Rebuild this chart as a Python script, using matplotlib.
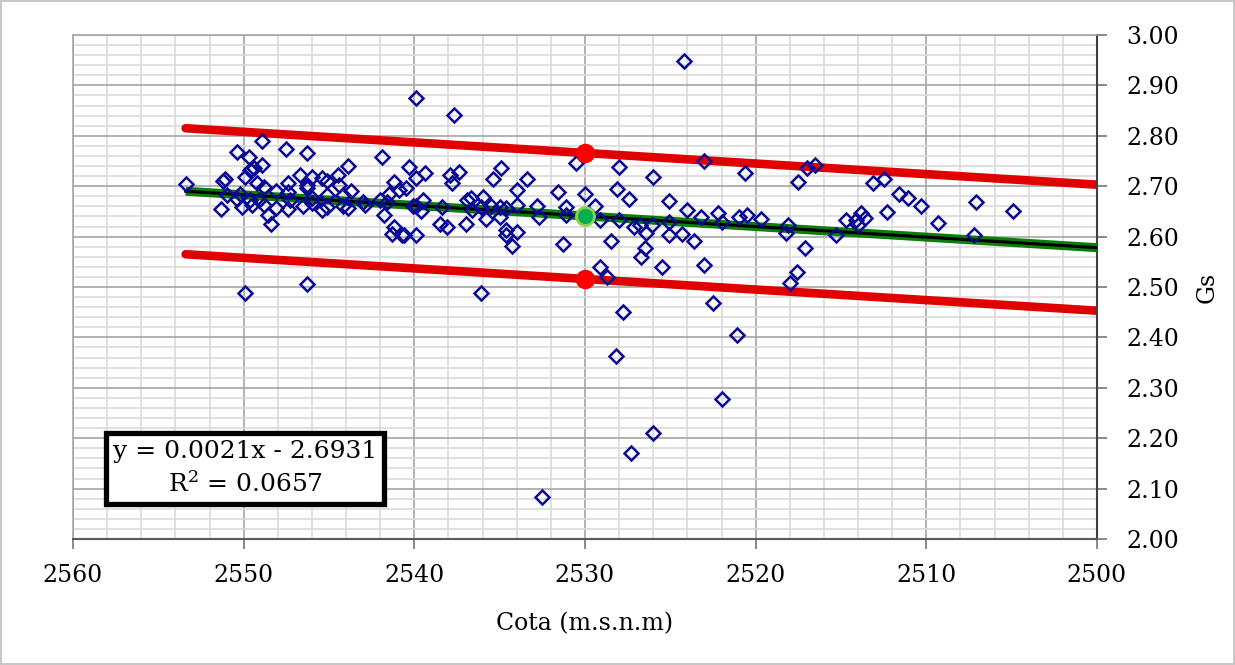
import matplotlib
matplotlib.use("Agg")
import matplotlib.pyplot as plt
from matplotlib.ticker import MultipleLocator, FormatStrFormatter

# ---------------- data ----------------
cota = [2553.4, 2548.9, 2550.4, 2547.5, 2546.3, 2549.7, 2548.9, 2549.6, 2549.4, 2543.9,
        2541.9, 2540.3, 2551.1, 2551.2, 2549.9, 2549.2, 2546.7, 2546.0, 2547.4, 2546.3,
        2545.4, 2545.1, 2544.5, 2544.4, 2539.9, 2541.2, 2548.8, 2546.3, 2551.0, 2550.2,
        2548.1, 2547.4, 2543.7, 2540.9, 2540.5, 2550.4, 2549.6, 2549.1, 2547.3, 2546.0,
        2545.1, 2544.2, 2543.0, 2541.5, 2542.0, 2541.6, 2551.3, 2550.1, 2549.5, 2548.8,
        2548.1, 2547.4, 2546.5, 2546.0, 2545.4, 2545.1, 2544.2, 2543.9, 2542.9, 2539.9,
        2548.6, 2548.4, 2541.8, 2541.2, 2541.3, 2540.7, 2539.9, 2549.9, 2546.3, 2539.4,
        2537.9, 2537.4, 2537.8, 2534.9, 2535.4, 2533.4, 2534.0, 2530.5, 2528.0, 2531.6,
        2530.0, 2528.1, 2527.4, 2540.1, 2539.5, 2539.6, 2538.4, 2536.9, 2536.7, 2536.0,
        2536.6, 2536.1, 2535.5, 2535.0, 2534.6, 2534.0, 2532.8, 2532.7, 2531.1, 2531.1,
        2529.4, 2529.1, 2528.0, 2527.1, 2526.4, 2540.6, 2538.5, 2538.1, 2537.0, 2535.8,
        2535.0, 2534.6, 2534.6, 2534.0, 2534.3, 2531.3, 2528.5, 2526.5, 2526.7, 2529.1,
        2528.7, 2536.1, 2527.8, 2537.7, 2539.9, 2524.2, 2523.0, 2526.0, 2520.6, 2517.0,
        2516.5, 2517.5, 2513.1, 2512.5, 2525.1, 2524.0, 2523.2, 2522.2, 2522.0, 2521.0,
        2520.5, 2519.7, 2518.1, 2518.2, 2515.3, 2514.7, 2514.1, 2513.8, 2513.6, 2514.0,
        2512.3, 2526.8, 2526.1, 2525.1, 2525.1, 2524.3, 2523.6, 2525.5, 2523.0, 2517.1,
        2517.6, 2518.0, 2522.5, 2511.6, 2511.1, 2510.3, 2509.3, 2507.1, 2504.9, 2507.2,
        2521.1, 2528.2, 2522.0, 2526.0, 2527.3, 2532.5]

gs = [2.704, 2.790, 2.768, 2.774, 2.766, 2.758, 2.742, 2.732, 2.736, 2.740,
      2.758, 2.738, 2.714, 2.710, 2.718, 2.706, 2.722, 2.718, 2.706, 2.702,
      2.716, 2.710, 2.722, 2.702, 2.716, 2.708, 2.698, 2.696, 2.683, 2.685,
      2.690, 2.688, 2.690, 2.692, 2.696, 2.675, 2.673, 2.673, 2.673, 2.677,
      2.683, 2.683, 2.669, 2.685, 2.673, 2.669, 2.655, 2.659, 2.663, 2.663,
      2.657, 2.655, 2.661, 2.667, 2.653, 2.659, 2.661, 2.657, 2.663, 2.661,
      2.643, 2.625, 2.643, 2.619, 2.605, 2.603, 2.603, 2.488, 2.506, 2.726,
      2.722, 2.728, 2.706, 2.736, 2.714, 2.714, 2.692, 2.746, 2.738, 2.688,
      2.685, 2.694, 2.675, 2.661, 2.673, 2.651, 2.659, 2.673, 2.677, 2.679,
      2.653, 2.659, 2.661, 2.659, 2.657, 2.663, 2.661, 2.639, 2.659, 2.643,
      2.661, 2.633, 2.633, 2.619, 2.607, 2.603, 2.625, 2.619, 2.625, 2.635,
      2.639, 2.613, 2.603, 2.609, 2.581, 2.585, 2.591, 2.577, 2.560, 2.540,
      2.520, 2.488, 2.450, 2.841, 2.875, 2.948, 2.750, 2.718, 2.726, 2.736,
      2.742, 2.708, 2.706, 2.714, 2.671, 2.653, 2.639, 2.647, 2.629, 2.639,
      2.643, 2.635, 2.623, 2.607, 2.603, 2.633, 2.633, 2.647, 2.637, 2.623,
      2.649, 2.623, 2.623, 2.629, 2.603, 2.605, 2.591, 2.540, 2.544, 2.577,
      2.530, 2.508, 2.468, 2.685, 2.677, 2.661, 2.627, 2.669, 2.651, 2.603,
      2.405, 2.363, 2.278, 2.210, 2.171, 2.083]

# trend line (as drawn) and +/- band
trend_x = [2553.4, 2500.0]
trend_y = [2.690, 2.578]
band = 0.125

# highlighted points at cota 2530
mark_x = 2530.0
mark_center = 2.640
mark_upper = 2.765
mark_lower = 2.515

eq_lines = ["y = 0.0021x - 2.6931", "R$^2$ = 0.0657"]

x_label = "Cota (m.s.n.m)"
y_label = "Gs"
x_lim = (2560, 2500)
y_lim = (2.00, 3.00)

# ---------------- plot ----------------
plt.rcParams['font.family'] = ['DejaVu Serif']
plt.rcParams['mathtext.fontset'] = 'dejavuserif'

fig = plt.figure(figsize=(12.35, 6.65), dpi=100)
fig.patch.set_facecolor('white')
fig.patch.set_edgecolor('#c8c8c8')
fig.patch.set_linewidth(1.5)

ax = fig.add_axes([73/1235, 1 - 539/665, (1097-73)/1235, (539-35)/665])
ax.set_xlim(*x_lim)
ax.set_ylim(*y_lim)

# grid
ax.xaxis.set_major_locator(MultipleLocator(10))
ax.xaxis.set_minor_locator(MultipleLocator(2))
ax.yaxis.set_major_locator(MultipleLocator(0.1))
ax.yaxis.set_minor_locator(MultipleLocator(0.02))
ax.grid(which='major', color='#a6a6a6', linewidth=1.2, zorder=0)
ax.grid(which='minor', color='#dadada', linewidth=1.2, zorder=0)
ax.set_axisbelow(True)

# lines
ax.plot(trend_x, [v + band for v in trend_y], color='#e00000', lw=6.2, solid_capstyle='round', zorder=2)
ax.plot(trend_x, [v - band for v in trend_y], color='#e00000', lw=6.2, solid_capstyle='round', zorder=2)
ax.plot(trend_x, trend_y, color='#0a7d0a', lw=6.5, solid_capstyle='butt', zorder=3)
ax.plot(trend_x, trend_y, color='black', lw=2.2, zorder=4)

# scatter
ax.plot(cota, gs, linestyle='none', marker='D', markersize=7.6, fillstyle='none',
        markeredgecolor='#0a0a96', markeredgewidth=1.8, zorder=5)

# highlighted points
ax.plot([mark_x, mark_x], [mark_upper, mark_lower], linestyle='none', marker='o',
        markersize=13, color='#ff0000', zorder=6)
ax.plot([mark_x], [mark_center], linestyle='none', marker='o', markersize=13,
        markerfacecolor='#00b050', markeredgecolor='#92d050', markeredgewidth=2, zorder=6)

# axes styling
ax.yaxis.tick_right()
ax.yaxis.set_label_position('right')
ax.yaxis.set_major_formatter(FormatStrFormatter('%.2f'))
ax.tick_params(axis='both', which='major', labelsize=17, direction='out', length=7,
               width=1.3, color='#808080', pad=6)
ax.tick_params(axis='both', which='minor', length=0)
ax.tick_params(axis='y', pad=14)
ax.tick_params(axis='x', pad=11)
for side in ['left', 'top']:
    ax.spines[side].set_color('#a6a6a6')
    ax.spines[side].set_linewidth(1.2)
ax.spines['bottom'].set_color('#595959')
ax.spines['bottom'].set_linewidth(1.5)
ax.spines['right'].set_color('#404040')
ax.spines['right'].set_linewidth(1.5)

ax.set_xlabel(x_label, fontsize=17, labelpad=18)
ax.set_ylabel(y_label, fontsize=17, labelpad=12)

# equation box
ax.text(2549.9, 2.140, "\n".join(eq_lines), fontsize=18, ha='center', va='center',
        linespacing=1.4, zorder=7,
        bbox=dict(boxstyle='square,pad=0.28', facecolor='white', edgecolor='black', linewidth=3.8))

fig.savefig('out.png', dpi=100, facecolor=fig.get_facecolor(), edgecolor=fig.get_edgecolor())
